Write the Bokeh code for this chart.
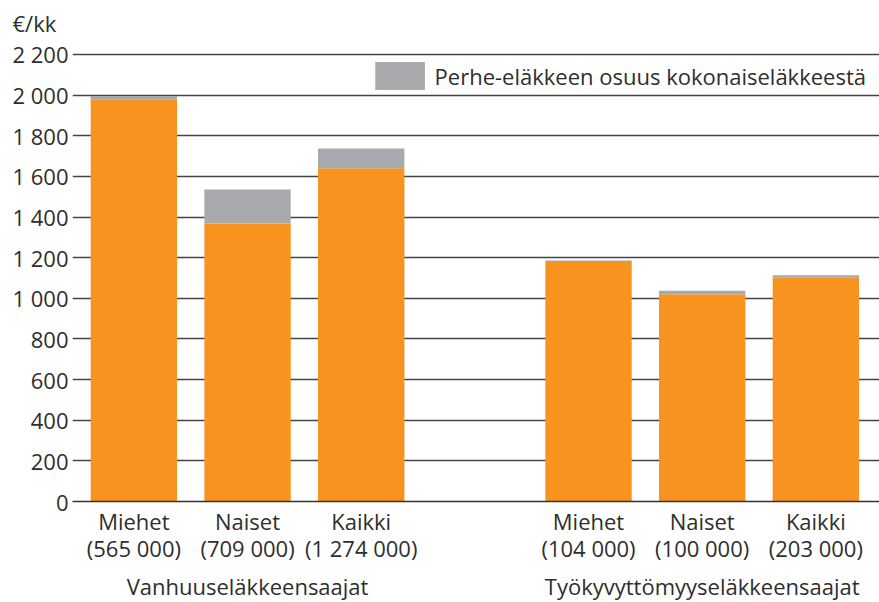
from bokeh.plotting import figure
from bokeh.models import Range1d, LinearAxis, FixedTicker, Legend, LegendItem, ColumnDataSource
from bokeh.embed import file_html
from bokeh.resources import INLINE

groups = ["Vanhuuseläkkeensaajat", "Työkyvyttömyyseläkkeensaajat"]
group_positions = [1, 5]
categories = ["Miehet\n(565 000)", "Naiset\n(709 000)", "Kaikki\n(1 274 000)",
              "Miehet\n(104 000)", "Naiset\n(100 000)", "Kaikki\n(203 000)"]
positions = [0, 1, 2, 4, 5, 6]
own_pension = [1980, 1368, 1640, 1183, 1020, 1101]
family_part = [16, 167, 97, 3, 17, 13]
y_ticks = [0, 200, 400, 600, 800, 1000, 1200, 1400, 1600, 1800, 2000, 2200]
legend_label = "Perhe-eläkkeen osuus kokonaiseläkkeestä"
unit_label = "€/kk"

FONT = "Open Sans"
FS = "22px"
TXT = "#2e2e2e"
ORANGE = "#F7931E"
GRAY = "#A7A9AC"

totals = [a + b for a, b in zip(own_pension, family_part)]
src = ColumnDataSource(dict(x=positions, own=own_pension, total=totals,
                            zero=[0] * len(positions)))

p = figure(frame_width=807, frame_height=456, min_border_left=72, min_border_right=0,
           min_border_top=45, min_border_bottom=101,
           x_range=Range1d(-0.54, 6.56), y_range=Range1d(0, 2244),
           output_backend="svg", toolbar_location=None, x_axis_type=None,
           title=unit_label)
p.outline_line_color = None
p.background_fill_color = "white"
p.title.align = "left"
p.title.vertical_align = "middle"
p.title.offset = -60
p.title.text_font = FONT
p.title.text_font_size = FS
p.title.text_font_style = "normal"
p.title.text_color = TXT
p.title.standoff = 13

r_own = p.vbar(x="x", bottom="zero", top="own", width=0.76, source=src,
               fill_color=ORANGE, line_color=None)
r_fam = p.vbar(x="x", bottom="own", top="total", width=0.76, source=src,
               fill_color=GRAY, line_color=None)

p.xgrid.grid_line_color = None
p.ygrid.ticker = FixedTicker(ticks=y_ticks)
p.ygrid.grid_line_color = "#444444"
p.ygrid.grid_line_width = 1.4

ya = p.yaxis[0]
ya.ticker = FixedTicker(ticks=y_ticks)
ya.major_label_overrides = {v: f"{v:,}".replace(",", " ") for v in y_ticks}
ya.axis_line_color = None
ya.major_tick_line_color = None
ya.minor_tick_line_color = None
ya.major_label_standoff = -2
ya.major_label_text_font = FONT
ya.major_label_text_font_size = FS
ya.major_label_text_color = TXT

xa = LinearAxis(ticker=FixedTicker(ticks=positions),
                major_label_overrides={pos: c for pos, c in zip(positions, categories)})
xa.axis_line_color = "#333333"
xa.axis_line_width = 1.5
xa.major_tick_line_color = None
xa.minor_tick_line_color = None
xa.major_label_standoff = -2
xa.major_label_text_font = FONT
xa.major_label_text_font_size = FS
xa.major_label_text_line_height = 0.9
xa.major_label_text_color = TXT
p.add_layout(xa, "below")

ga = LinearAxis(ticker=FixedTicker(ticks=group_positions),
                major_label_overrides={pos: g for pos, g in zip(group_positions, groups)})
ga.axis_line_color = None
ga.major_tick_line_color = None
ga.minor_tick_line_color = None
ga.major_label_standoff = -1
ga.major_label_text_font = FONT
ga.major_label_text_font_size = FS
ga.major_label_text_color = TXT
p.add_layout(ga, "below")

legend = Legend(items=[LegendItem(label=legend_label, renderers=[r_fam])],
                location="top_right", margin=13, padding=0,
                glyph_width=62, glyph_height=35, label_standoff=4,
                label_text_font=FONT, label_text_font_size=FS,
                label_text_color=TXT, border_line_color=None,
                background_fill_alpha=0.0)
p.add_layout(legend, "center")

open("out.html", "w").write(file_html(p, INLINE))
